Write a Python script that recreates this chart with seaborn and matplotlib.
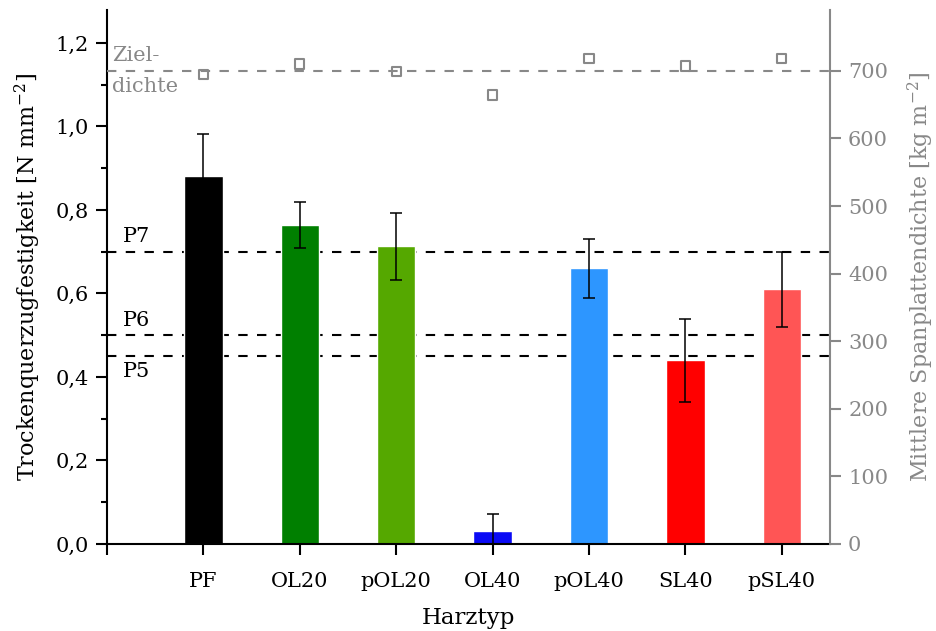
import numpy as np
import pandas as pd
import matplotlib
matplotlib.use("Agg")
import matplotlib.pyplot as plt
import seaborn as sns

# Resin types and measured values
harztyp = ["PF", "OL20", "pOL20", "OL40", "pOL40", "SL40", "pSL40"]
querzug = [0.881, 0.764, 0.713, 0.031, 0.660, 0.440, 0.610]        # N mm^-2
querzug_sd = [0.102, 0.056, 0.080, 0.040, 0.070, 0.100, 0.090]
dichte = [695, 710, 699, 664, 718, 707, 718]                       # kg m^-3
farben = ["#000000", "#007F00", "#55A800", "#0A0AF5", "#2D96FF", "#FF0000", "#FF5555"]

# Requirement classes and target density
p_klassen = {"P7": 0.70, "P6": 0.50, "P5": 0.45}
zieldichte = 700

sns.set_theme(style="white")
plt.rcParams["font.family"] = ["DejaVu Serif"]
plt.rcParams["mathtext.fontset"] = "dejavuserif"
plt.rcParams["text.color"] = "black"
plt.rcParams["axes.labelcolor"] = "black"
plt.rcParams["xtick.color"] = "black"
plt.rcParams["ytick.color"] = "black"

GRAU = "#888888"
FS = 15
FL = 16

fig = plt.figure(figsize=(9.36, 6.31), dpi=100)
ax = fig.add_axes([0.1143, 0.1379, 0.7725, 0.8463])

df = pd.DataFrame({"Harztyp": harztyp, "Querzug": querzug})

# Requirement lines behind the bars
for name, val in p_klassen.items():
    ax.axhline(val, color="black", lw=1.5, dashes=(4.5, 4.5), zorder=0.5)

sns.barplot(data=df, x="Harztyp", y="Querzug", hue="Harztyp", palette=farben,
            saturation=1, width=0.4, legend=False, ax=ax, zorder=2)
ax.errorbar(np.arange(len(harztyp)), querzug, yerr=querzug_sd, fmt="none",
            ecolor="black", elinewidth=1.1, capsize=4.2, capthick=1.1, zorder=3)

ax.set_xlim(-1, 6.5)
ax.set_ylim(0, 1.279)
ax.set_xticks(np.arange(-1, len(harztyp)))
ax.set_xticklabels([""] + harztyp, fontsize=FS)
ax.set_yticks(np.arange(0, 1.21, 0.2))
ax.set_yticklabels([f"{v:.1f}".replace(".", ",") for v in np.arange(0, 1.21, 0.2)], fontsize=FS)
ax.set_yticks(np.arange(0.1, 1.21, 0.2), minor=True)
ax.tick_params(axis="both", which="major", direction="out", length=8, width=1.5,
               color="black", labelcolor="black", pad=5, bottom=True, left=True)
ax.tick_params(axis="y", which="minor", direction="out", length=4, width=1.5, left=True)
ax.tick_params(axis="x", pad=12)
for s in ["top", "right"]:
    ax.spines[s].set_visible(False)
for s in ["left", "bottom"]:
    ax.spines[s].set_color("black")
    ax.spines[s].set_linewidth(1.5)

ax.set_xlabel("Harztyp", fontsize=FL + 0.5, labelpad=12, color="black")
ax.set_ylabel("Trockenquerzugfestigkeit [N mm$^{-2}$]", fontsize=FL, labelpad=9, color="black")

# Class labels
ax.text(-0.84, 0.713, "P7", fontsize=FS, va="bottom", ha="left")
ax.text(-0.84, 0.512, "P6", fontsize=FS, va="bottom", ha="left")
ax.text(-0.84, 0.435, "P5", fontsize=FS, va="top", ha="left")

# Density on the secondary axis
ax2 = ax.twinx()
ax2.set_ylim(0, 790)
ax2.axhline(zieldichte, color=GRAU, lw=1.5, dashes=(4.5, 4.5), zorder=1)
sns.scatterplot(x=np.arange(len(harztyp)), y=dichte, marker="s", s=45,
                facecolor="none", edgecolor=GRAU, linewidth=1.5, ax=ax2, zorder=3)
ax2.set_xlim(-1, 6.5)
ax2.set_yticks(np.arange(0, 701, 100))
ax2.set_yticklabels([str(v) for v in range(0, 701, 100)], fontsize=FS, color=GRAU)
ax2.tick_params(axis="y", direction="out", length=8, width=1.5, color=GRAU, right=True, pad=5)
for s in ["top", "left", "bottom"]:
    ax2.spines[s].set_visible(False)
ax2.spines["right"].set_color(GRAU)
ax2.spines["right"].set_linewidth(1.5)
ax2.set_ylabel("Mittlere Spanplattendichte [kg m$^{-2}$]", fontsize=FL, color=GRAU, labelpad=13)
ax2.text(-0.95, 709, "Ziel-", fontsize=FS, color=GRAU, va="bottom", ha="left")
ax2.text(-0.95, 691, "dichte", fontsize=FS, color=GRAU, va="top", ha="left")
ax2.grid(False)
ax.grid(False)

fig.savefig("out.png", dpi=100)
